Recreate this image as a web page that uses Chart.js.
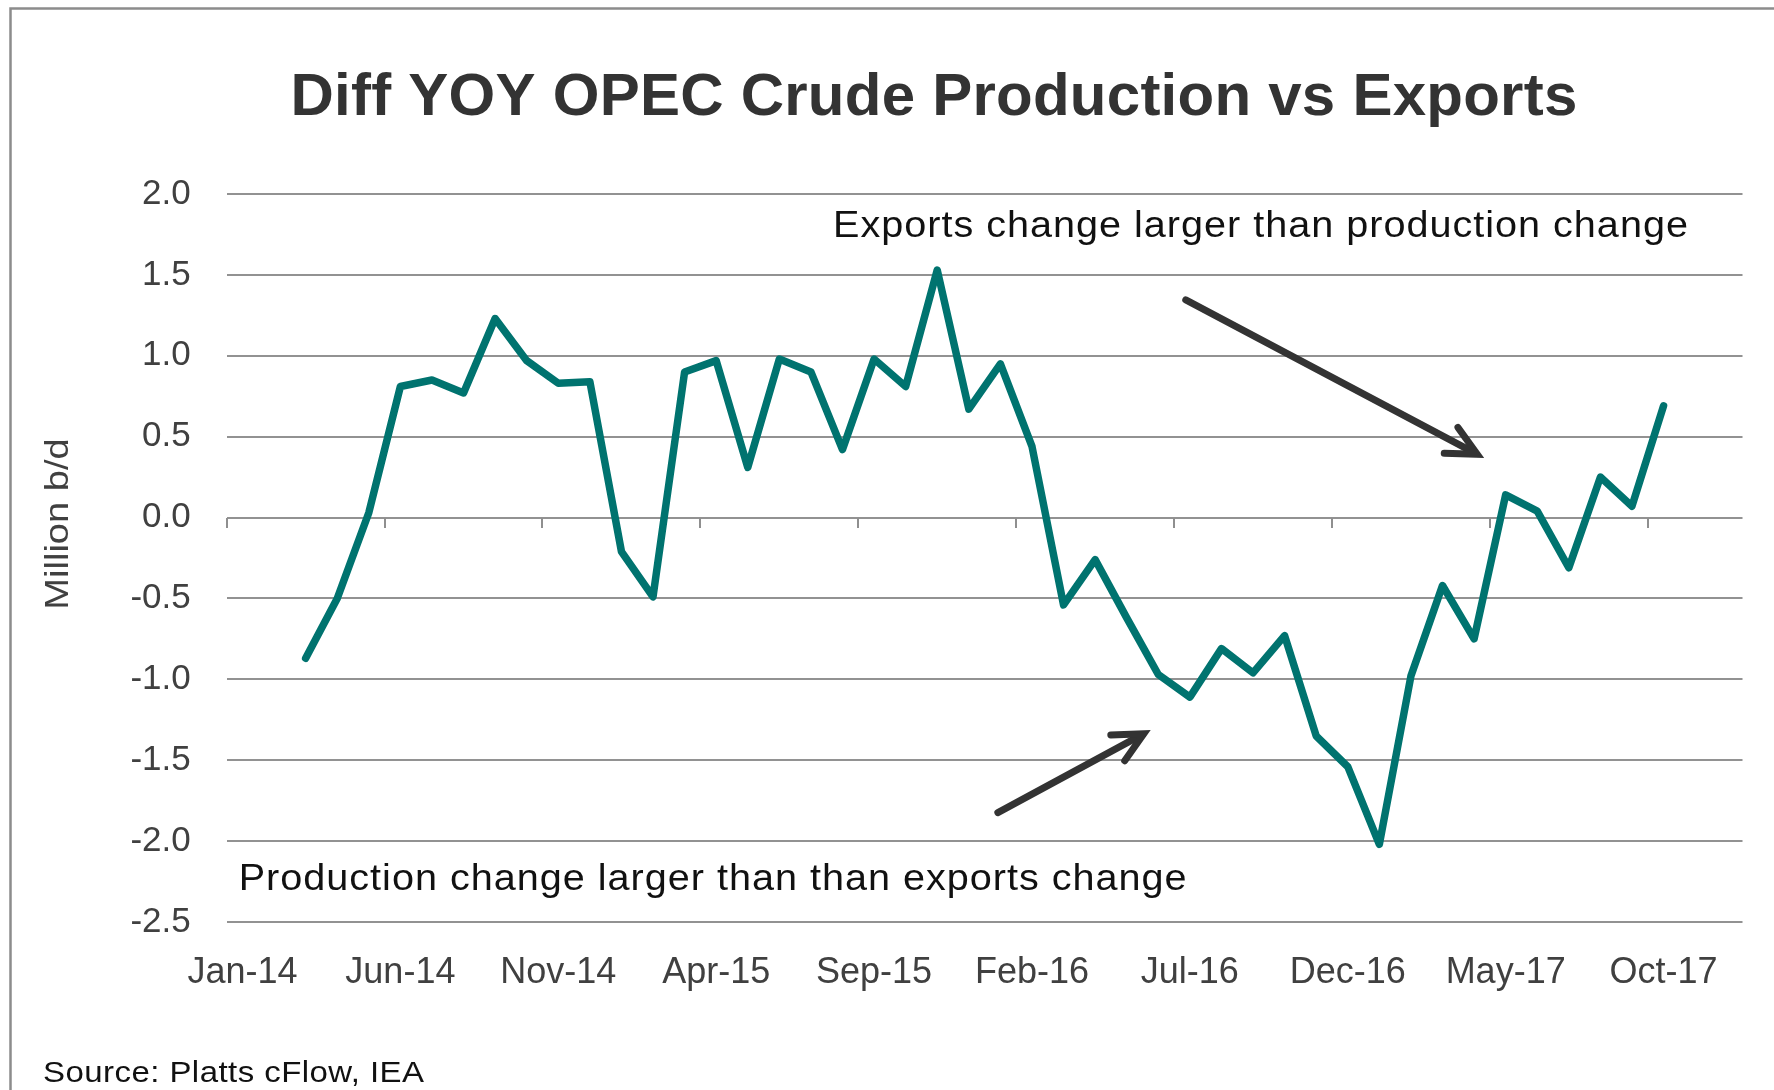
<!DOCTYPE html>
<html>
<head>
<meta charset="utf-8">
<title>Diff YOY OPEC Crude Production vs Exports</title>
<script src="https://cdn.jsdelivr.net/npm/chart.js@4"></script>
<style>
  html, body { margin: 0; padding: 0; background: #fff; }
  canvas { display: block; }
</style>
</head>
<body>
<canvas id="chart" width="1774" height="1090"></canvas>
<script>
// month categories, Jan-14 .. Dec-17
const months = [
  'Jan-14', 'Feb-14', 'Mar-14', 'Apr-14', 'May-14', 'Jun-14', 'Jul-14', 'Aug-14', 'Sep-14', 'Oct-14', 'Nov-14', 'Dec-14',
  'Jan-15', 'Feb-15', 'Mar-15', 'Apr-15', 'May-15', 'Jun-15', 'Jul-15', 'Aug-15', 'Sep-15', 'Oct-15', 'Nov-15', 'Dec-15',
  'Jan-16', 'Feb-16', 'Mar-16', 'Apr-16', 'May-16', 'Jun-16', 'Jul-16', 'Aug-16', 'Sep-16', 'Oct-16', 'Nov-16', 'Dec-16',
  'Jan-17', 'Feb-17', 'Mar-17', 'Apr-17', 'May-17', 'Jun-17', 'Jul-17', 'Aug-17', 'Sep-17', 'Oct-17', 'Nov-17', 'Dec-17'
];

// production minus exports, million b/d
const diffYoy = [
  null, null, -0.87, -0.50, 0.03, 0.81, 0.85, 0.77, 1.23, 0.97, 0.83, 0.84,
  -0.21, -0.49, 0.90, 0.97, 0.31, 0.98, 0.90, 0.42, 0.98, 0.81, 1.53, 0.67,
  0.95, 0.44, -0.54, -0.26, -0.62, -0.97, -1.11, -0.81, -0.96, -0.73, -1.35, -1.54,
  -2.02, -0.98, -0.42, -0.75, 0.14, 0.04, -0.31, 0.25, 0.07, 0.69, null, null
];

const yTicks = [-2.5, -2.0, -1.5, -1.0, -0.5, 0.0, 0.5, 1.0, 1.5, 2.0];

// notes and arrows, placed in data units (category index, value)
const notes = [
  { text: 'Exports change larger than production change', at: [18.7, 1.736] },
  { text: 'Production change larger than than exports change', at: [-0.12, -2.30] }
];
const arrows = [
  { from: [29.87, 1.346], to: [39.24, 0.377] },
  { from: [23.92, -1.824], to: [28.68, -1.322] }
];

const FONT = '"Liberation Sans", Arial, sans-serif';

// text drawn a little wider than the font, like the stretched text boxes of the original
function wideText(ctx, text, x, y, sx, spacing) {
  ctx.save();
  ctx.translate(x, y);
  ctx.scale(sx, 1);
  if ('letterSpacing' in ctx) ctx.letterSpacing = spacing + 'px';
  ctx.fillText(text, 0, 0);
  ctx.restore();
}

const overlay = {
  id: 'overlay',
  beforeDraw(chart) {
    const { ctx, width, height } = chart;
    ctx.save();
    ctx.fillStyle = '#fff';
    ctx.fillRect(0, 0, width, height);
    // outer frame
    ctx.strokeStyle = '#8c8c8c';
    ctx.lineWidth = 2.5;
    ctx.beginPath();
    ctx.moveTo(10.5, height + 5);
    ctx.lineTo(10.5, 8.5);
    ctx.lineTo(width + 5, 8.5);
    ctx.stroke();
    ctx.restore();
  },
  beforeDatasetsDraw(chart) {
    // tick marks hanging from the zero line, every 5 months
    const { ctx } = chart;
    const x = chart.scales.x, y = chart.scales.y;
    const y0 = Math.round(y.getPixelForValue(0));
    ctx.save();
    ctx.strokeStyle = '#8f8f8f';
    ctx.lineWidth = 2;
    ctx.beginPath();
    for (let i = 0; i < months.length; i += 5) {
      const px = Math.round(x.getPixelForValue(i - 0.5));
      ctx.moveTo(px, y0);
      ctx.lineTo(px, y0 + 10);
    }
    ctx.stroke();
    ctx.restore();
  },
  afterDraw(chart) {
    const { ctx } = chart;
    const x = chart.scales.x, y = chart.scales.y;
    ctx.save();
    ctx.textBaseline = 'alphabetic';

    // title
    ctx.fillStyle = '#333333';
    ctx.font = 'bold 60px ' + FONT;
    ctx.textAlign = 'center';
    if ('letterSpacing' in ctx) ctx.letterSpacing = '0.25px';
    ctx.fillText('Diff YOY OPEC Crude Production vs Exports', 934, 115);
    if ('letterSpacing' in ctx) ctx.letterSpacing = '0px';

    // y axis title
    ctx.save();
    ctx.translate(68, 524);
    ctx.rotate(-Math.PI / 2);
    ctx.fillStyle = '#404040';
    ctx.font = '34px ' + FONT;
    ctx.textAlign = 'center';
    wideText(ctx, 'Million b/d', 0, 0, 1.12, 0);
    ctx.restore();

    ctx.textAlign = 'left';

    // source
    ctx.fillStyle = '#111';
    ctx.font = '30px ' + FONT;
    wideText(ctx, 'Source: Platts cFlow, IEA', 43, 1082, 1.1, 0.4);

    // notes
    ctx.font = '36px ' + FONT;
    notes.forEach(n => {
      wideText(ctx, n.text, x.getPixelForValue(n.at[0]), y.getPixelForValue(n.at[1]), 1.1, 0.9);
    });

    // arrows
    ctx.strokeStyle = '#333333';
    ctx.lineWidth = 7;
    arrows.forEach(a => {
      const x1 = x.getPixelForValue(a.from[0]), y1 = y.getPixelForValue(a.from[1]);
      let x2 = x.getPixelForValue(a.to[0]), y2 = y.getPixelForValue(a.to[1]);
      const ang = Math.atan2(y2 - y1, x2 - x1);
      const len = 33, spread = 0.46;
      // pull the vertex back so the mitre point lands on the tip
      x2 -= 5 * Math.cos(ang);
      y2 -= 5 * Math.sin(ang);
      ctx.lineCap = 'round';
      ctx.beginPath();
      ctx.moveTo(x1, y1);
      ctx.lineTo(x2 - 4 * Math.cos(ang), y2 - 4 * Math.sin(ang));
      ctx.stroke();
      ctx.lineJoin = 'miter';
      ctx.beginPath();
      ctx.moveTo(x2 - len * Math.cos(ang - spread), y2 - len * Math.sin(ang - spread));
      ctx.lineTo(x2, y2);
      ctx.lineTo(x2 - len * Math.cos(ang + spread), y2 - len * Math.sin(ang + spread));
      ctx.stroke();
    });

    ctx.restore();
  }
};

Chart.defaults.font.family = FONT;

new Chart(document.getElementById('chart'), {
  type: 'line',
  data: {
    labels: months,
    datasets: [{
      label: 'Diff YOY',
      data: diffYoy,
      borderColor: '#00736f',
      borderWidth: 7.5,
      borderJoinStyle: 'round',
      borderCapStyle: 'round',
      pointRadius: 0,
      tension: 0,
      spanGaps: false
    }]
  },
  options: {
    responsive: false,
    animation: false,
    layout: { padding: { left: 38, top: 194, right: 31.5, bottom: 0 } },
    plugins: {
      legend: { display: false },
      tooltip: { enabled: false },
      title: { display: false }
    },
    scales: {
      x: {
        offset: true,
        grid: { display: false },
        border: { display: false },
        ticks: {
          autoSkip: false,
          maxRotation: 0,
          minRotation: 0,
          padding: 21.5,
          color: '#404040',
          font: { size: 36 },
          callback(v, i) { return i % 5 === 0 ? this.getLabelForValue(v) : ''; }
        },
        afterFit(s) { s.height = 1090 - 922; }
      },
      y: {
        min: yTicks[0],
        max: yTicks[yTicks.length - 1],
        afterBuildTicks(s) { s.ticks = yTicks.map(v => ({ value: v })); },
        grid: { color: '#929292', lineWidth: 2, drawTicks: false },
        border: { display: false },
        ticks: {
          padding: 36,
          color: '#404040',
          font: { size: 35 },
          callback: v => v.toFixed(1)
        },
        afterFit(s) { s.width = 226.7 - 38; }
      }
    }
  },
  plugins: [overlay]
});
</script>
</body>
</html>
